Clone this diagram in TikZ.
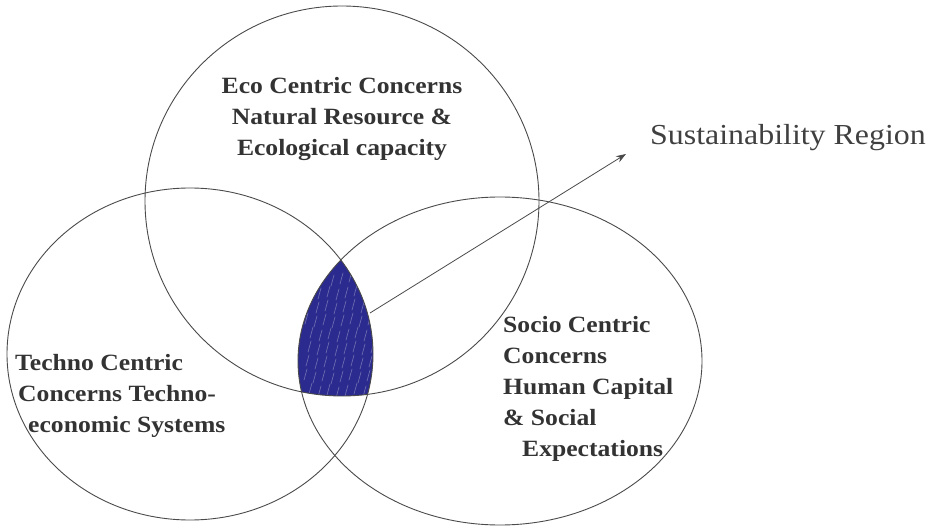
\documentclass[tikz,border=0pt]{standalone}
\usepackage{fontspec}
\newfontfamily\labelfont[FakeStretch=1.1]{Liberation Serif}
\usetikzlibrary{arrows.meta}
\definecolor{cRegion}{HTML}{2B2A8E}
\definecolor{cLine}{HTML}{4A4A4A}
\newcommand{\ecoshape}{(342,201) ellipse [x radius=197pt, y radius=195pt]}
\newcommand{\technoshape}{(190,354) ellipse [x radius=183pt, y radius=166pt]}
\newcommand{\socioshape}{(500,361) ellipse [x radius=202pt, y radius=164pt]}
\tikzset{
  ring/.style={draw=cLine, line width=0.9pt},
  concern/.style={font=\labelfont\bfseries\fontsize{23.3}{31}\selectfont,
    text=black!80, inner sep=0pt},
  regionlabel/.style={font=\labelfont\fontsize{29}{34}\selectfont,
    text=black!75, inner sep=0pt},
  streak/.style={draw=white, opacity=0.3, line width=0.7pt, line cap=round},
  pointer/.style={-{Stealth[length=10pt, width=7pt]}, draw=cLine, line width=0.8pt},
}
\begin{document}
\begin{tikzpicture}[x=1pt, y=-1pt]
  \useasboundingbox (0,0) rectangle (929,529);

  % ----------------------------------------------------------------
  % Shaded common region (pen-filled)
  % ----------------------------------------------------------------
  \begin{scope}
    \clip \ecoshape;
    \clip \technoshape;
    \fill[cRegion] \socioshape;
    \foreach \i in {0,...,7}
      \foreach \j in {0,...,8}
        \draw[streak] ({304+9*\i+mod(5*\j,7)},{282+14*\j+mod(3*\i,5)})
          -- ++(3,-11);
  \end{scope}

  % ----------------------------------------------------------------
  % The three concern rings
  % ----------------------------------------------------------------
  \draw[ring] \ecoshape;
  \draw[ring] \technoshape;
  \draw[ring] \socioshape;

  % ----------------------------------------------------------------
  % Labels
  % ----------------------------------------------------------------
  \node[concern, anchor=north, align=center] (eco) at (342,77)
    {Eco Centric Concerns\\ Natural Resource \&\\ Ecological capacity};
  \node[concern, anchor=north west, align=left] (techno) at (15,354)
    {Techno Centric\\ \hspace*{3pt}Concerns Techno-\\ \hspace*{13pt}economic Systems};
  \node[concern, anchor=north west, align=left] (socio) at (503,316)
    {Socio Centric\\ Concerns\\ Human Capital\\ \& Social\\ \hspace*{19pt}Expectations};
  \node[regionlabel, anchor=base west] (sustain) at (650,145) {Sustainability Region};

  % ----------------------------------------------------------------
  % Pointer
  % ----------------------------------------------------------------
  \coordinate (core) at (370,313);
  \coordinate (tip) at (626,154);
  \draw[pointer] (core) -- (tip);

\end{tikzpicture}
\end{document}
